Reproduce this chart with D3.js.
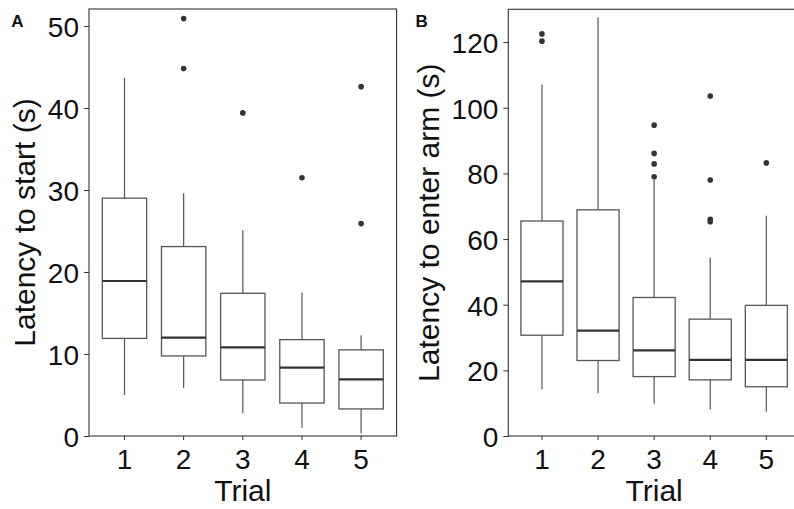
<!DOCTYPE html>
<html>
<head>
<meta charset="utf-8">
<script src="https://cdn.jsdelivr.net/npm/d3@7"></script>
<style>
  html, body { margin: 0; padding: 0; background: #fff; overflow: hidden; }
  svg { display: block; font-family: "Liberation Sans", Arial, sans-serif; }
</style>
</head>
<body>
<svg id="chart" width="794" height="509"></svg>
<script>
// Trials on the x axis
const trials = [1, 2, 3, 4, 5];

// Panel A: latency to start (s) — box summaries per trial
const startLow    = [5.0, 5.85, 2.76, 1.02, 0.33];
const startQ1     = [11.9, 9.76, 6.83, 4.02, 3.3];
const startMedian = [18.9, 12.0, 10.8, 8.33, 6.9];
const startQ3     = [29.0, 23.1, 17.4, 11.75, 10.5];
const startHigh   = [43.7, 29.6, 25.1, 17.5, 12.3];
const startOutliers = [[], [50.9, 44.8], [39.4], [31.5], [42.6, 25.9]];
const startTicks = [0, 10, 20, 30, 40, 50];

// Panel B: latency to enter arm (s)
const armLow    = [14.2, 13.0, 9.85, 8.1, 7.4];
const armQ1     = [30.7, 23.0, 18.1, 17.1, 15.0];
const armMedian = [47.1, 32.1, 26.1, 23.2, 23.2];
const armQ3     = [65.5, 68.9, 42.2, 35.6, 39.8];
const armHigh   = [107.1, 127.5, 78.0, 54.4, 67.1];
const armOutliers = [[122.5, 120.3], [], [94.7, 86.1, 82.9, 79.0], [103.6, 78.0, 66.0, 65.3], [83.2]];
const armTicks = [0, 20, 40, 60, 80, 100, 120];

const svg = d3.select("#chart");
const BOTTOM = 436;

function drawPanel(opts) {
  const { left, right, top, yMax, ticks, low, q1, med, q3, high, outliers, title, tag, tagX, titleX } = opts;

  const x = d3.scaleBand().domain(trials).range([left, right])
    .paddingInner(0).paddingOuter(0.1);
  const y = d3.scaleLinear().domain([0, yMax]).range([BOTTOM, top]);
  const bw = x.step() * 0.75;
  const cx = t => x(t) + x.bandwidth() / 2;

  const g = svg.append("g");

  // panel border
  g.append("rect")
    .attr("x", left).attr("y", top)
    .attr("width", right - left).attr("height", BOTTOM - top)
    .attr("fill", "none").attr("stroke", "#333").attr("stroke-width", 1.1);

  // y axis
  const ya = g.append("g").attr("transform", `translate(${left},0)`)
    .call(d3.axisLeft(y).tickValues(ticks).tickSize(5).tickPadding(5));
  ya.select(".domain").remove();
  ya.selectAll("line").attr("stroke", "#333");
  ya.selectAll("text").attr("font-size", 28).attr("fill", "#111").attr("dy", "0.37em")
    .attr("font-family", "'Liberation Sans', Arial, sans-serif");

  // x axis
  const xa = g.append("g").attr("transform", `translate(0,${BOTTOM})`)
    .call(d3.axisBottom(x).tickSize(4).tickPadding(9));
  xa.select(".domain").remove();
  xa.selectAll("line").attr("stroke", "#333");
  xa.selectAll("text").attr("font-size", 28).attr("fill", "#111")
    .attr("font-family", "'Liberation Sans', Arial, sans-serif");

  const idx = trials.map((t, i) => i);

  // whiskers
  g.selectAll(".wl").data(idx).join("line")
    .attr("x1", i => cx(trials[i])).attr("x2", i => cx(trials[i]))
    .attr("y1", i => y(low[i])).attr("y2", i => y(q1[i]))
    .attr("stroke", "#555").attr("stroke-width", 1.2);
  g.selectAll(".wh").data(idx).join("line")
    .attr("x1", i => cx(trials[i])).attr("x2", i => cx(trials[i]))
    .attr("y1", i => y(q3[i])).attr("y2", i => y(high[i]))
    .attr("stroke", "#555").attr("stroke-width", 1.2);

  // boxes
  g.selectAll(".box").data(idx).join("rect")
    .attr("x", i => cx(trials[i]) - bw / 2)
    .attr("y", i => y(q3[i]))
    .attr("width", bw)
    .attr("height", i => y(q1[i]) - y(q3[i]))
    .attr("fill", "#fff").attr("stroke", "#555").attr("stroke-width", 1.3);

  // medians
  g.selectAll(".med").data(idx).join("line")
    .attr("x1", i => cx(trials[i]) - bw / 2).attr("x2", i => cx(trials[i]) + bw / 2)
    .attr("y1", i => y(med[i])).attr("y2", i => y(med[i]))
    .attr("stroke", "#333").attr("stroke-width", 2.2);

  // outliers
  const pts = [];
  outliers.forEach((arr, i) => arr.forEach(v => pts.push({ t: trials[i], v })));
  g.selectAll(".out").data(pts).join("circle")
    .attr("cx", d => cx(d.t)).attr("cy", d => y(d.v)).attr("r", 2.8)
    .attr("fill", "#333");

  // axis titles
  g.append("text")
    .attr("transform", `translate(${titleX},${(top + BOTTOM) / 2}) rotate(-90)`)
    .attr("text-anchor", "middle").attr("font-size", 30).attr("fill", "#111")
    .text(title);
  g.append("text")
    .attr("x", (left + right) / 2)
    .attr("y", 501)
    .attr("text-anchor", "middle").attr("font-size", 30).attr("fill", "#111")
    .text("Trial");

  // panel tag
  g.append("text")
    .attr("x", tagX).attr("y", 26.5)
    .attr("text-anchor", "middle").attr("font-size", 17).attr("font-weight", "bold")
    .attr("fill", "#111").text(tag);

  return { x, y };
}

drawPanel({
  left: 89, right: 396.6, top: 9, yMax: 52.07, ticks: startTicks,
  low: startLow, q1: startQ1, med: startMedian, q3: startQ3, high: startHigh,
  outliers: startOutliers, title: "Latency to start (s)", tag: "A", tagX: 17.5, titleX: 35
});

drawPanel({
  left: 508.3, right: 800, top: 9.3, yMax: 130.0, ticks: armTicks,
  low: armLow, q1: armQ1, med: armMedian, q3: armQ3, high: armHigh,
  outliers: armOutliers, title: "Latency to enter arm (s)", tag: "B", tagX: 421.7, titleX: 439
});
</script>
</body>
</html>
